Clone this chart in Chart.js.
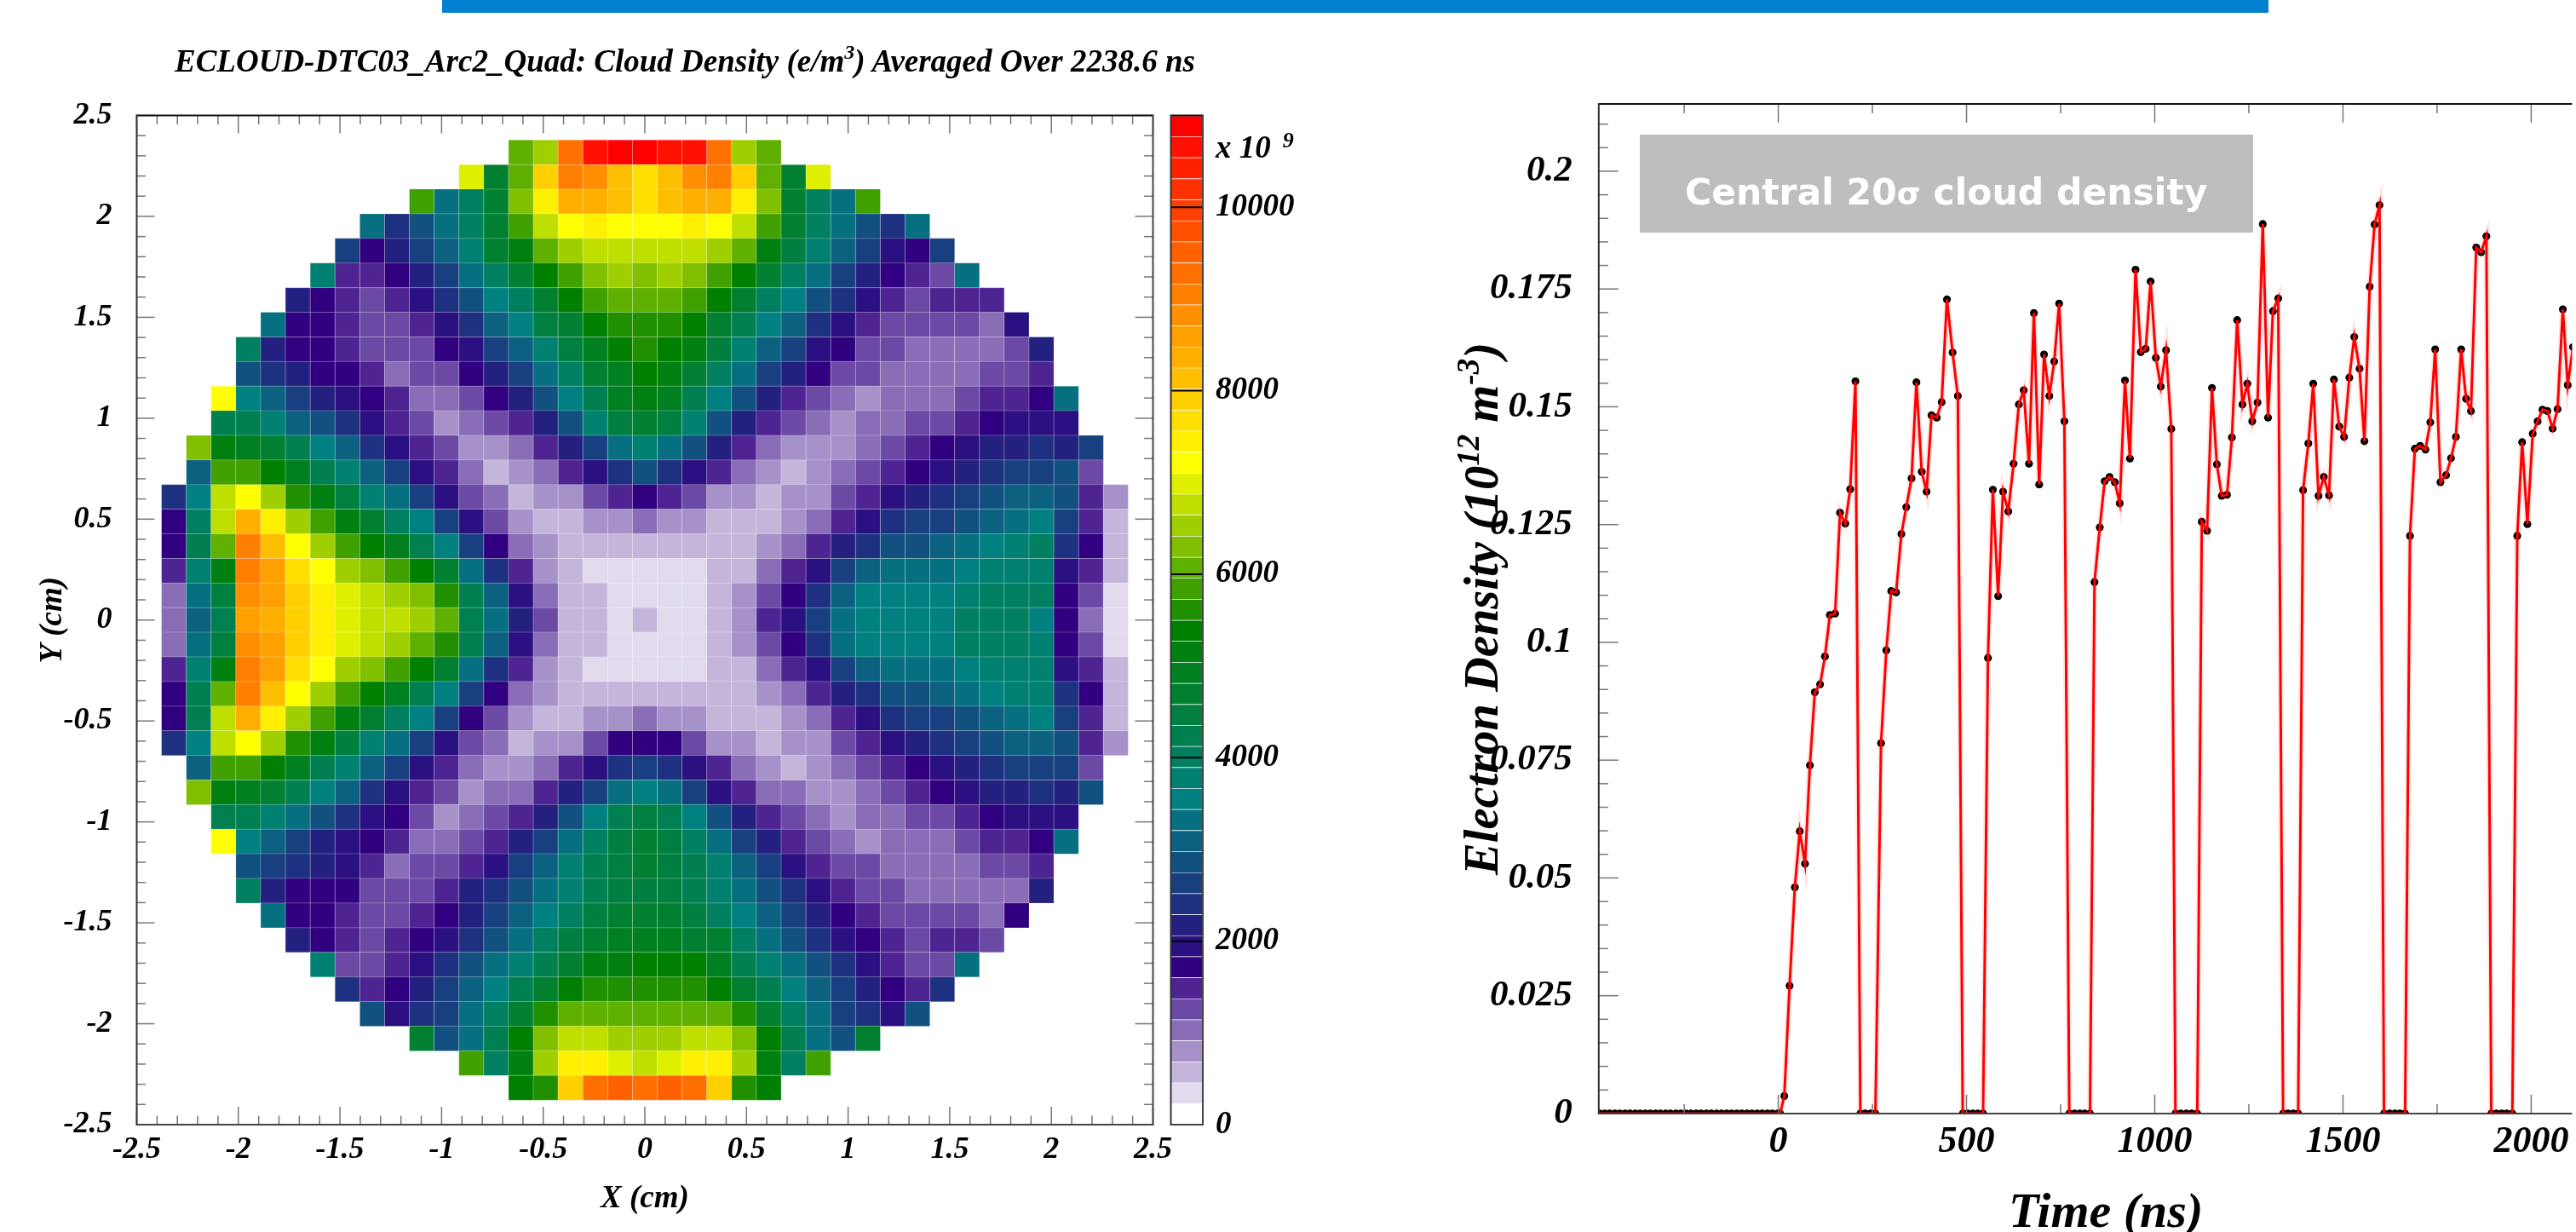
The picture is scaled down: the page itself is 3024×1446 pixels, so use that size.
<!DOCTYPE html>
<html><head><meta charset="utf-8">
<script src="https://cdn.jsdelivr.net/npm/chart.js@4/dist/chart.umd.min.js"></script>
<style>
html,body{margin:0;padding:0;background:#fff;width:3024px;height:1446px;overflow:hidden}
canvas{position:absolute;top:0;filter:blur(0.6px)}
.t{position:absolute;white-space:nowrap;font-family:"Liberation Serif",serif;font-weight:bold;font-style:italic;color:#000;line-height:1;filter:blur(0.5px)}
sup{line-height:0}
</style></head><body>
<div style="position:absolute;left:519px;top:0;width:2144px;height:15px;background:#0080D0"></div>
<canvas id="map" width="1450" height="1446" style="left:0"></canvas>
<canvas id="bar" width="250" height="1446" style="left:1350px"></canvas>
<canvas id="line" width="1324" height="1446" style="left:1700px"></canvas>
<div class="t" style="left:205px;top:53px;font-size:37px">ECLOUD-DTC03_Arc2_Quad: Cloud Density (e/m<sup style="font-size:24px;vertical-align:15px">3</sup>) Averaged Over 2238.6 ns</div>
<div class="t" style="left:1427px;top:154px;font-size:37px">x 10<span style="font-size:26px;position:relative;top:-12px;left:14px">9</span></div>
<div class="t" style="left:1711px;top:1027px;font-size:56.5px;transform-origin:0 0;transform:rotate(-90deg)">Electron Density (10<sup style="font-size:37px;vertical-align:22px">12</sup> m<sup style="font-size:37px;vertical-align:22px">-3</sup>)</div>
<div class="t" style="left:2358px;top:1392px;font-size:58px">Time (ns)</div>
<div style="position:absolute;left:1925px;top:158px;width:720px;height:115px;background:#BEBEBE;color:#fff;font:bold 42.5px 'DejaVu Sans';line-height:136px;overflow:hidden;white-space:nowrap;text-indent:53px;filter:blur(0.4px)">Central 20<span style="font-size:36px">σ</span> cloud density</div>
<script>
// ---- Left panel: cloud density colour levels, rows top to bottom, each row centred on x = 0 ----
const cloudLevelRows = [
[26,28,40,46,47,47,46,46,40,28,26],
[30,20,26,34,39,38,35,33,35,38,39,34,26,20,30],
[25,14,17,20,27,32,36,36,35,33,35,36,36,32,27,20,17,14,25],
[14,10,12,14,17,20,25,29,31,32,31,31,31,32,31,29,25,20,17,14,12,10,14],
[11,7,9,11,13,16,20,22,26,28,29,29,29,29,29,28,26,22,19,16,13,11,8,7,11],
[16,6,6,7,9,11,14,17,20,23,25,27,28,27,28,27,25,23,20,17,14,11,9,7,6,5,14],
[9,7,6,5,6,8,10,12,15,17,20,23,25,26,26,26,25,23,20,17,15,12,10,8,6,5,6,6,6],
[14,7,7,6,5,5,6,8,10,13,15,19,20,23,24,24,24,23,20,18,15,13,10,8,6,5,5,5,5,4,8],
[17,9,7,7,6,5,5,5,7,8,11,13,16,19,21,23,24,23,22,19,16,13,11,8,7,5,5,4,4,4,4,5,9],
[12,10,9,7,7,6,4,5,5,7,9,11,14,17,20,21,23,22,20,17,14,11,9,7,5,5,4,4,4,4,5,5,6],
[31,15,13,11,9,8,7,6,4,4,5,7,9,12,15,18,21,22,21,18,15,12,9,6,5,4,3,4,4,4,5,6,6,7,14],
[18,18,16,13,12,10,8,6,5,3,4,5,6,9,12,16,19,20,19,16,12,9,6,5,4,3,4,4,5,5,6,7,8,8,8],
[27,22,21,20,18,15,13,10,8,6,5,3,3,4,6,9,11,14,16,14,12,9,6,4,3,3,3,4,5,6,7,8,9,9,10,9,11],
[13,25,25,23,21,18,16,13,11,8,6,4,2,3,4,6,8,10,12,10,8,6,4,3,2,3,4,5,6,7,8,9,10,11,11,12,5],
[10,15,29,31,28,24,22,19,16,14,11,8,5,4,2,3,3,5,6,7,6,5,3,3,2,3,3,5,6,8,9,10,11,12,13,13,12,6,3],
[7,17,29,36,32,28,25,22,20,17,15,11,8,5,3,2,2,3,3,4,3,3,2,2,2,3,4,6,8,10,11,11,12,13,14,15,11,6,2],
[7,18,26,39,35,31,28,25,23,21,18,15,11,7,4,3,2,2,2,2,2,2,2,2,3,4,6,9,10,12,12,13,14,15,16,17,10,7,2],
[6,16,22,39,37,33,31,28,27,25,23,20,14,10,6,3,2,1,1,1,1,1,2,2,4,6,8,11,13,14,14,14,15,16,16,16,8,6,2],
[4,14,19,38,37,34,32,30,29,28,27,24,18,13,8,4,2,2,1,1,1,1,2,3,5,7,10,13,15,15,15,15,16,17,17,17,7,5,1],
[4,13,18,37,36,34,32,30,29,29,28,26,18,14,9,5,2,2,1,2,1,1,2,3,6,8,11,14,15,15,15,15,17,17,17,15,7,4,1],
[4,14,19,38,37,34,32,30,29,28,26,24,18,13,8,4,2,2,1,1,1,1,2,3,5,7,10,14,15,15,15,15,17,17,17,16,7,5,1],
[6,16,22,39,37,33,31,28,27,25,23,20,14,10,6,3,2,1,1,1,1,1,2,2,4,6,8,11,13,14,14,14,15,16,16,16,8,6,2],
[7,18,26,39,35,31,28,25,23,21,18,15,11,7,4,3,2,2,2,2,2,2,2,2,3,4,6,9,10,12,12,13,14,15,16,16,10,7,2],
[7,18,29,36,32,28,25,22,20,17,15,11,7,5,3,2,2,3,3,4,3,3,2,2,2,3,4,6,8,10,11,11,12,13,14,15,11,6,2],
[10,15,29,31,28,24,22,19,16,14,11,8,5,4,2,3,3,5,7,7,7,5,3,3,2,3,3,5,6,8,9,10,11,12,13,13,12,6,3],
[13,25,25,23,21,18,16,13,11,8,6,4,3,3,4,6,8,10,11,10,8,6,4,3,2,3,4,5,6,7,8,9,10,11,11,11,5],
[27,22,21,20,18,15,13,10,8,6,5,3,4,4,6,9,11,14,15,14,11,8,6,4,4,3,3,4,5,6,7,8,9,9,10,9,12],
[18,18,16,14,12,10,8,7,5,3,4,5,6,9,12,15,18,19,18,15,12,9,6,5,4,3,4,4,5,5,6,7,8,8,8],
[31,15,13,11,9,8,7,6,4,4,5,6,9,11,14,17,19,20,19,17,14,11,9,6,5,4,3,4,4,4,5,6,6,7,14],
[12,11,10,9,8,6,4,5,5,6,8,11,13,16,18,19,20,19,18,16,13,11,8,6,5,5,4,4,4,4,5,5,6],
[17,9,7,7,7,5,5,5,6,9,10,12,14,16,18,19,19,19,18,16,14,12,10,8,6,5,5,4,4,4,4,4,9],
[14,7,7,6,5,5,6,7,9,11,13,15,17,19,20,20,20,19,17,15,13,11,9,7,6,5,5,5,5,4,7],
[9,7,6,5,6,7,8,10,12,14,17,19,20,21,21,21,20,20,17,14,12,10,8,7,6,5,6,6,5],
[16,5,5,6,8,10,12,14,16,18,20,22,22,23,23,23,21,18,16,14,12,10,8,6,5,5,14],
[10,6,7,9,11,13,15,18,20,23,24,24,24,24,24,23,20,18,15,13,11,9,7,6,10],
[12,8,10,11,14,17,20,24,26,26,26,26,26,26,26,24,20,17,14,11,10,8,12],
[20,12,14,18,23,27,29,29,28,28,28,29,29,27,23,18,14,12,20],
[25,17,22,28,32,32,30,29,30,32,32,28,22,17,25],
[23,24,34,40,41,40,41,40,34,24,23]
];
const mapBinsPerAxis = 41;
const mapRange = [-2.5, 2.5];
const mapTickValues = [-2.5,-2,-1.5,-1,-0.5,0,0.5,1,1.5,2,2.5];
const paletteStops = [[0,[255,255,255]],[7,[48,0,128]],[15,[0,128,128]],[23,[0,128,0]],[31,[255,255,0]],[47,[255,0,0]]];
const paletteLevels = 48;
const colorbarMax = 11000;
const colorbarTicks = [0,2000,4000,6000,8000,10000];

// ---- Right panel: electron density versus time ----
const timeNs = [-475,-461,-448,-434,-421,-407,-394,-380,-367,-353,-340,-326,-313,-299,-286,-272,-259,-245,-232,-218,-205,-191,-178,-164,-151,-137,-124,-110,-97,-83,-70,-56,-43,-29,-16,-2,5,16,30,44,57,71,84,97,111,124,137,151,164,178,191,205,218,231,245,258,273,287,300,313,327,340,354,367,381,394,407,421,434,448,463,477,490,503,517,530,544,557,570,584,597,611,625,639,652,666,679,693,706,720,733,746,760,773,787,801,814,828,840,854,867,880,894,907,921,934,949,963,976,989,1003,1016,1030,1044,1055,1069,1084,1098,1113,1125,1139,1152,1165,1178,1192,1205,1219,1233,1246,1259,1273,1287,1301,1314,1328,1341,1354,1368,1381,1394,1408,1421,1435,1449,1463,1476,1490,1503,1517,1530,1544,1557,1571,1584,1597,1609,1624,1638,1651,1665,1678,1691,1705,1719,1732,1745,1759,1774,1787,1800,1814,1827,1840,1854,1867,1881,1894,1908,1922,1935,1950,1963,1976,1990,2004,2017,2030,2043,2057,2070,2084,2097,2111];
const electronDensity = [0,0,0,0,0,0,0,0,0,0,0,0,0,0,0,0,0,0,0,0,0,0,0,0,0,0,0,0,0,0,0,0,0,0,0,0,0,.0037,.0271,.0480,.0599,.0530,.0739,.0894,.0911,.0970,.1058,.1061,.1275,.1252,.1325,.1554,0,0,0,0,.0786,.0983,.1109,.1106,.1230,.1287,.1348,.1552,.1362,.1320,.1482,.1477,.1510,.1728,.1615,.1523,0,0,0,0,0,.0967,.1324,.1098,.1320,.1278,.1379,.1505,.1535,.1379,.1699,.1335,.1611,.1523,.1596,.1719,.1469,0,0,0,0,0,.1128,.1244,.1342,.1351,.1340,.1295,.1556,.1390,.1791,.1616,.1623,.1766,.1604,.1543,.1620,.1453,0,0,0,0,0,.1256,.1237,.1540,.1378,.1311,.1313,.1435,.1684,.1505,.1549,.1469,.1509,.1888,.1477,.1703,.1730,0,0,0,0,.1323,.1422,.1549,.1311,.1351,.1312,.1558,.1458,.1436,.1562,.1648,.1581,.1427,.1755,.1887,.1928,0,0,0,0,0,.1226,.1411,.1417,.1409,.1467,.1622,.1340,.1355,.1391,.1436,.1622,.1517,.1491,.1838,.1828,.1862,0,0,0,0,0,.1226,.1425,.1251,.1443,.1469,.1494,.1491,.1454,.1495,.1707,.1546,.1627];
const timeTicks = [0,500,1000,1500,2000];
const timeMinorTicks = [-250,250,750,1250,1750];
const densityTicks = [0,.025,.05,.075,.1,.125,.15,.175,.2];
const densityAxisRange = [0,.2143];
const timeAxisRange = [-476.9,2108.6];

const serif = s => ({family:'"Liberation Serif"',weight:'bold',style:'italic',size:s});
function levelColor(l){
  for(let i=1;i<paletteStops.length;i++){
    const [a,ca]=paletteStops[i-1],[b,cb]=paletteStops[i];
    if(l<=b){const f=(l-a)/(b-a);return `rgb(${ca.map((v,k)=>Math.round(v+(cb[k]-v)*f)).join(',')})`;}
  }
  return 'rgb(255,0,0)';
}
const levelStep = colorbarMax/paletteLevels;
// Inward ticks and frame, placed through the chart's own scales
function frameTicks(c){return {id:'frameTicks',afterDraw(chart){
  const {ctx,chartArea:a,scales:{x,y}}=chart;ctx.save();
  const seg=(x1,y1,x2,y2,col,w)=>{ctx.strokeStyle=col;ctx.lineWidth=w;ctx.beginPath();ctx.moveTo(x1,y1);ctx.lineTo(x2,y2);ctx.stroke();};
  (c.x||[]).forEach(([v,l])=>{const p=x.getPixelForValue(v);
    seg(p,a.bottom,p,a.bottom-l,'#777',1.5);seg(p,a.top,p,a.top+l,'#777',1.5);});
  (c.y||[]).forEach(([v,l])=>{const p=y.getPixelForValue(v);
    seg(a.left,p,a.left+l,p,c.yCol||'#777',c.yWidth||1.5);
    if(c.right!==false&&!c.yCol)seg(a.right,p,a.right-l,p,'#777',1.5);});
  seg(a.left,a.top,a.right,a.top,'#111',2);
  seg(a.left,a.top-1,a.left,a.bottom+1,'#333',2);
  seg(a.left,a.bottom,a.right,a.bottom,'#444',2);
  if(c.right!==false)seg(a.right,a.top-1,a.right,a.bottom+1,'#444',2);
  ctx.restore();
}};}
const base={responsive:false,animation:false,events:[],plugins:{legend:{display:false},tooltip:{enabled:false},title:{display:false}}};

// Density map
const mapPoints=[];
const binW=(mapRange[1]-mapRange[0])/mapBinsPerAxis;
cloudLevelRows.forEach((row,r)=>{
  const first=-(row.length-1)/2;
  row.forEach((lev,i)=>mapPoints.push({x:(first+i)*binW,y:(19-r)*binW,v:(lev+.5)*levelStep}));
});
const mapMinor=[];for(let k=-25;k<=25;k++)mapMinor.push([k/10,k%5===0?21:10.5]);
new Chart(document.getElementById('map'),{type:'scatter',
  data:{datasets:[{data:mapPoints,pointStyle:'rect',pointRadius:20.55,pointHoverRadius:20.55,
    pointBackgroundColor:mapPoints.map(p=>levelColor(Math.floor(p.v/levelStep))),
    pointBorderColor:'rgba(255,255,255,0.2)',pointBorderWidth:1}]},
  options:{...base,layout:{padding:{left:0,top:135.5,right:96.5,bottom:0}},
    scales:{
      x:{type:'linear',min:mapRange[0],max:mapRange[1],grid:{display:false},border:{display:false},
        afterBuildTicks:s=>{s.ticks=mapTickValues.map(value=>({value}));},afterFit:s=>{s.height=126;},
        ticks:{autoSkip:false,maxRotation:0,padding:0,color:'#000',font:serif(36),callback:v=>String(v)},
        title:{display:true,text:'X (cm)',color:'#000',font:serif(37),padding:{top:0,bottom:16}}},
      y:{type:'linear',min:mapRange[0],max:mapRange[1],grid:{display:false},border:{display:false},
        afterBuildTicks:s=>{s.ticks=mapTickValues.map(value=>({value}));},afterFit:s=>{s.width=160.5;},
        ticks:{autoSkip:false,padding:21,color:'#000',font:serif(36),callback:v=>String(v)},
        title:{display:true,text:'Y (cm)',color:'#000',font:serif(37),padding:{top:40,bottom:0}}}
    }},
  plugins:[frameTicks({x:mapMinor,y:mapMinor})]});

// Colour bar
const barLevels=[];for(let i=0;i<paletteLevels;i++)barLevels.push(i);
new Chart(document.getElementById('bar'),{type:'bar',
  data:{labels:['density'],datasets:barLevels.map(l=>({data:[levelStep],backgroundColor:levelColor(l),
    borderColor:'rgba(255,255,255,0.18)',borderWidth:{top:1,bottom:0,left:0,right:0},categoryPercentage:1,barPercentage:1}))},
  options:{...base,layout:{padding:{left:24.5,top:135.5,right:0,bottom:126}},
    scales:{
      x:{stacked:true,display:false},
      y:{stacked:true,position:'right',min:0,max:colorbarMax,grid:{display:false},border:{display:false},
        afterBuildTicks:s=>{s.ticks=colorbarTicks.map(value=>({value}));},afterFit:s=>{s.width=188;},
        ticks:{autoSkip:false,padding:7,color:'#000',font:serif(37),callback:v=>String(v)}}
    }},
  plugins:[frameTicks({y:colorbarTicks.map(v=>[v,37.5]),yCol:'#000',yWidth:2})]});

// Electron density trace
const tracePts=timeNs.map((t,i)=>({x:t,y:electronDensity[i]}));
const xm=timeTicks.map(v=>[v,22]).concat(timeMinorTicks.map(v=>[v,11]));
const ym=[];for(let k=0;k<=42;k++)ym.push([k*.005,k%5===0?23:11]);
new Chart(document.getElementById('line'),{type:'scatter',
  data:{datasets:[
    {data:tracePts,showLine:true,borderColor:'#ff0000',borderWidth:3,pointRadius:0,order:0,tension:0},
    {data:tracePts,showLine:true,borderColor:'rgba(255,0,0,0.1)',borderWidth:7,pointRadius:0,order:2,tension:0},
    {data:tracePts,showLine:false,pointRadius:4.6,pointBackgroundColor:'#000',pointBorderWidth:0,order:1}]},
  options:{...base,layout:{padding:{left:0,top:121.9,right:0,bottom:0}},
    scales:{
      x:{type:'linear',min:timeAxisRange[0],max:timeAxisRange[1],grid:{display:false},border:{display:false},
        afterBuildTicks:s=>{s.ticks=timeTicks.map(value=>({value}));},afterFit:s=>{s.height=139.1;},
        ticks:{autoSkip:false,maxRotation:0,padding:-1,color:'#000',font:serif(44),callback:v=>String(v)}},
      y:{type:'linear',min:densityAxisRange[0],max:densityAxisRange[1],grid:{display:false},border:{display:false},
        afterBuildTicks:s=>{s.ticks=densityTicks.map(value=>({value}));},afterFit:s=>{s.width=176.8;},
        ticks:{autoSkip:false,padding:23,color:'#000',font:serif(43),callback:v=>String(v)}}
    }},
  plugins:[frameTicks({x:xm,y:ym,right:false})]});
</script>
</body></html>
